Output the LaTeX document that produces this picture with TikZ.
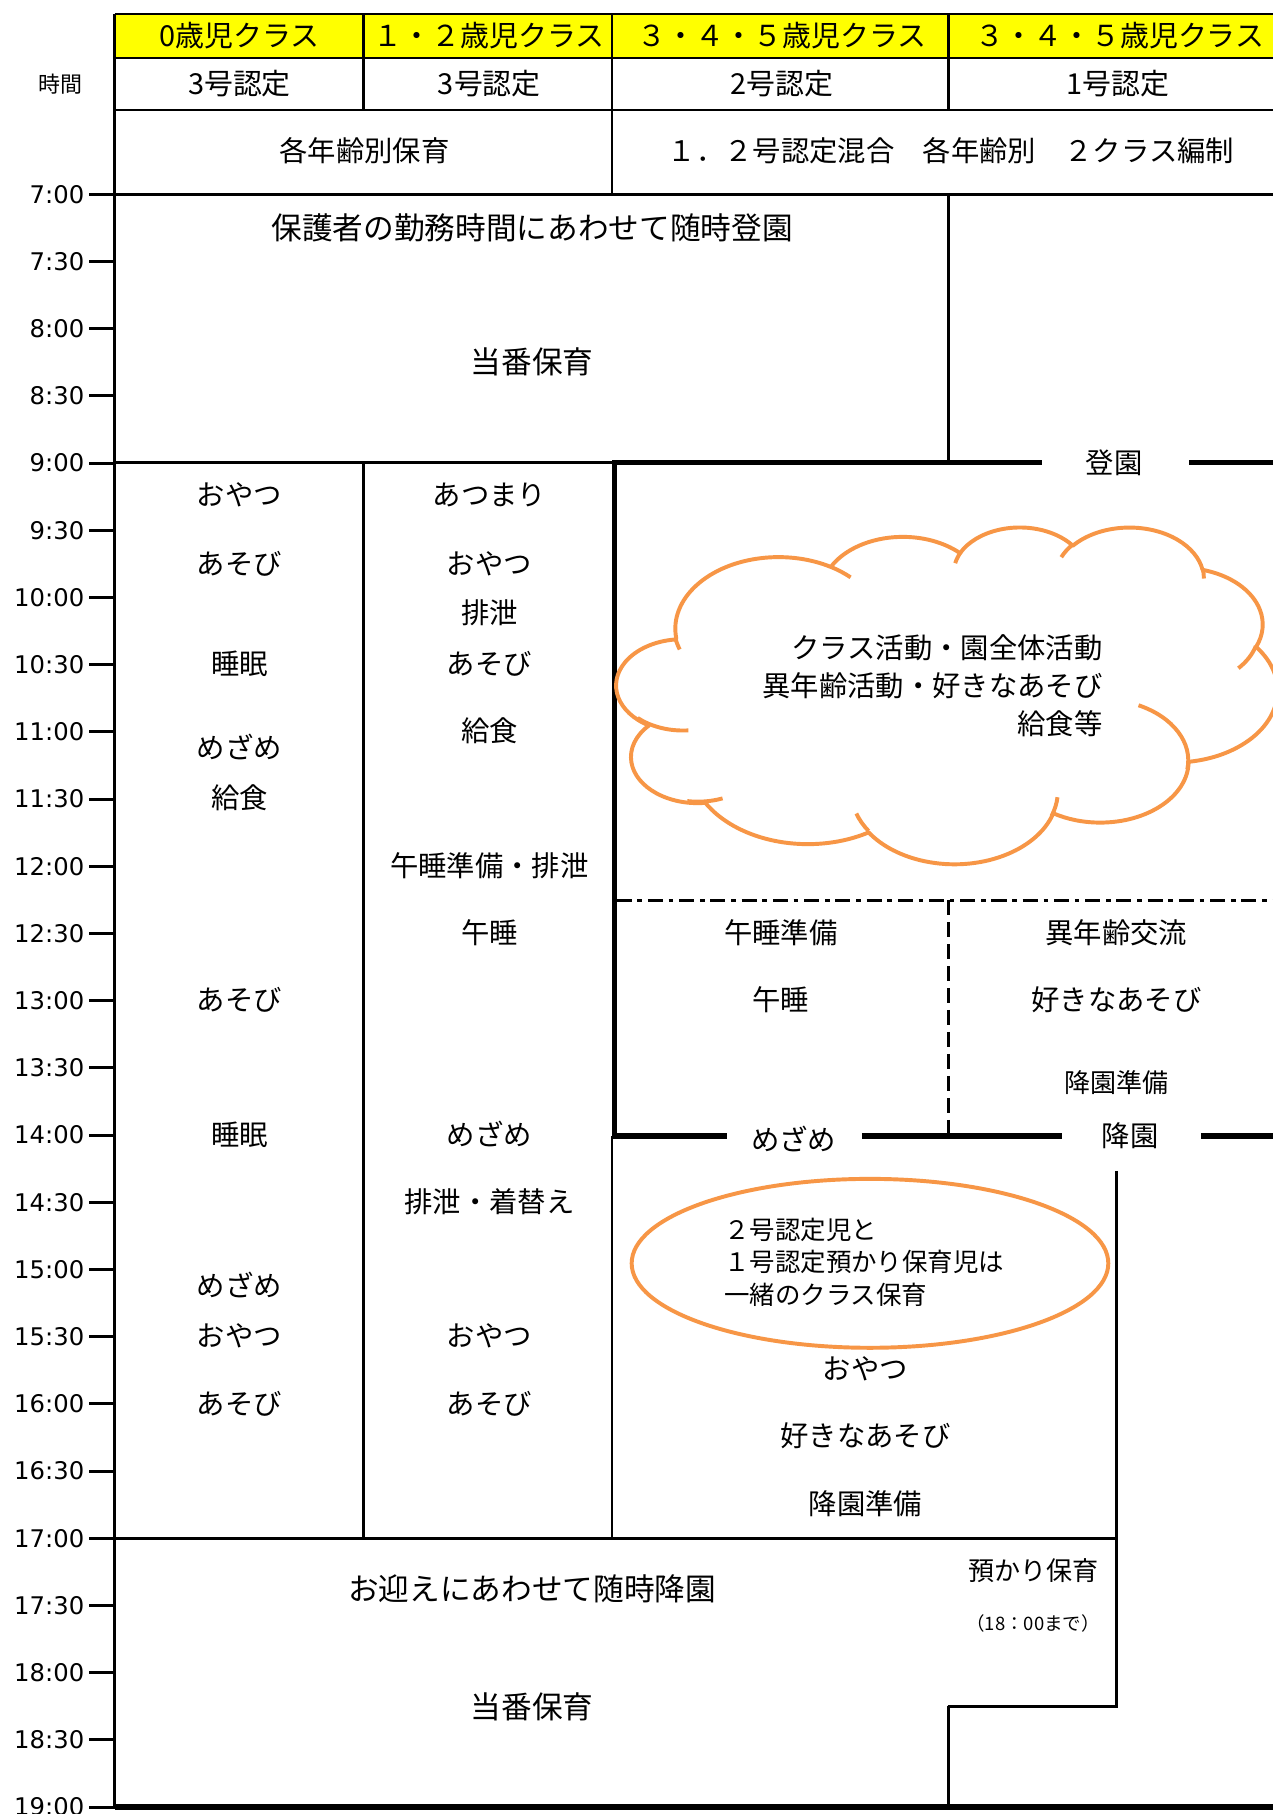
\documentclass[tikz,border=0pt]{standalone}
\usepackage{fontspec}
\setmainfont{Noto Sans CJK JP}
\newfontfamily\timefont{DejaVu Sans}
\usetikzlibrary{shapes.geometric}
\definecolor{cloudor}{HTML}{F79646}
\definecolor{hdryel}{HTML}{FFFF00}
% elliptical arc in DrawingML style: wR, hR, start (visual angle), sweep
\newcommand\carc[4]{arc[x radius=#1, y radius=#2,
  start angle={atan2(#1*sin(#3),#2*cos(#3))},
  delta angle={mod(atan2(#1*sin(#3+#4),#2*cos(#3+#4))-atan2(#1*sin(#3),#2*cos(#3))+720,360)}]}
\begin{document}
\begin{tikzpicture}[x=1pt,y=-1pt,
  lbl/.style={inner sep=0pt, outer sep=0pt, text height=21.5pt, text depth=3pt, font=\fontsize{24.5}{26}\selectfont},
  hdr/.style={lbl, text height=22pt, text depth=3pt, font=\fontsize{25}{26}\selectfont},
  big/.style={lbl, text height=23.3pt, text depth=3.2pt, font=\fontsize{26.5}{28}\selectfont},
  mid/.style={lbl, text height=19.8pt, text depth=2.7pt, font=\fontsize{22.5}{24}\selectfont},
  sml/.style={lbl, text height=19.4pt, text depth=2.6pt, font=\fontsize{22}{24}\selectfont},
  tiny/.style={lbl, text height=14pt, text depth=2pt, font=\fontsize{16}{17}\selectfont},
  tim/.style={inner sep=0pt, anchor=east, font=\timefont\fontsize{21}{21}\selectfont},
  lnA/.style={line width=2.2pt},
  lnB/.style={line width=3pt},
  lnC/.style={line width=4.6pt},
  tickln/.style={line width=2.6pt},
  dashdot/.style={line width=2.6pt, dash pattern=on 13pt off 5pt on 4pt off 5pt},
  dashv/.style={line width=2.6pt, dash pattern=on 13pt off 6pt},
  orln/.style={draw=cloudor, line width=3.4pt, line join=round}]
\useasboundingbox (0,0) rectangle (1100,1568);
\fill[white] (0,0) rectangle (1100,1568);

% ---------- header ----------
\fill[hdryel] (99,12) rectangle (1110,50);
\draw[lnA] (99,12) -- (1110,12);
\draw[lnA] (99,50) -- (1110,50);
\draw[lnA] (99,95) -- (1110,95);
\draw[lnA] (314,12) -- (314,95);
\draw[lnA] (529,12) -- (529,168);
\draw[lnA] (820,12) -- (820,95);
\draw[lnA] (99,12) -- (99,1562);

\node[hdr] (h1) at (207,31) {0歳児クラス};
\node[hdr] (h2) at (423,31) {１・２歳児クラス};
\node[hdr] (h3) at (676,31) {３・４・５歳児クラス};
\node[hdr] (h4) at (968,31) {３・４・５歳児クラス};
\node[hdr] (n1) at (207,72) {3号認定};
\node[hdr] (n2) at (423,72) {3号認定};
\node[hdr] (n3) at (676,72) {2号認定};
\node[hdr] (n4) at (966,72) {1号認定};
\node[lbl] (g1) at (315,130) {各年齢別保育};
\node[lbl] (g2) at (822,130) {１．２号認定混合　各年齢別　２クラス編制};
\node[inner sep=0pt, text height=16.7pt, text depth=2.3pt, font=\fontsize{19}{20}\selectfont] (jikan) at (52,73) {時間};

% ---------- time axis ----------
\foreach \t [count=\i from 0, evaluate=\i as \yy using 168+\i*58.0833] in
  {7:00,7:30,8:00,8:30,9:00,9:30,10:00,10:30,11:00,11:30,12:00,12:30,13:00,13:30,14:00,14:30,15:00,15:30,16:00,16:30,17:00,17:30,18:00,18:30,19:00} {
  \draw[tickln] (77,\yy) -- (99,\yy);
  \node[tim] (t\i) at (73,\yy) {\t};
}

% ---------- grid ----------
\draw[lnB] (99,168) -- (1110,168);
\draw[lnA] (820,168) -- (820,400);
\draw[lnA] (99,400) -- (529,400);
\draw[lnC] (529,400) -- (901,400);
\draw[lnC] (1028,400) -- (1110,400);
\draw[lnC] (531,398) -- (531,984);
\draw[lnC] (529,982) -- (628,982);
\draw[lnC] (745,982) -- (918,982);
\draw[lnC] (1038,982) -- (1110,982);
\draw[dashdot] (533,778) -- (1110,778);
\draw[dashv] (820,778) -- (820,982);
\draw[lnA] (314,400) -- (314,1330);
\draw[lnA] (529,982) -- (529,1330);
\draw[lnA] (965,1012) -- (965,1476);
\draw[lnB] (99,1330) -- (965,1330);
\draw[lnA] (819,1475) -- (966,1475);
\draw[lnA] (820,1475) -- (820,1562);
\draw[lnC] (99,1562) -- (1110,1562);

% ---------- 7:00 - 9:00 ----------
\node[big] (m1) at (460,197) {保護者の勤務時間にあわせて随時登園};
\node[big] (m2) at (460,313) {当番保育};
\node[lbl] (toen) at (963,400) {登園};

% ---------- column 1 ----------
\node[lbl] (a1) at (207,428) {おやつ};
\node[lbl] (a2) at (207,487) {あそび};
\node[lbl] (a3) at (207,574) {睡眠};
\node[lbl] (a4) at (207,646) {めざめ};
\node[lbl] (a5) at (207,690) {給食};
\node[lbl] (a6) at (207,864) {あそび};
\node[lbl] (a7) at (207,981) {睡眠};
\node[lbl] (a8) at (207,1111) {めざめ};
\node[lbl] (a9) at (207,1155) {おやつ};
\node[lbl] (a10) at (207,1213) {あそび};

% ---------- column 2 ----------
\node[lbl] (b1) at (423,428) {あつまり};
\node[lbl] (b2) at (423,487) {おやつ};
\node[lbl] (b3) at (423,530) {排泄};
\node[lbl] (b4) at (423,574) {あそび};
\node[lbl] (b5) at (423,632) {給食};
\node[lbl] (b6) at (423,748) {午睡準備・排泄};
\node[lbl] (b7) at (423,806) {午睡};
\node[lbl] (b8) at (423,981) {めざめ};
\node[lbl] (b9) at (423,1039) {排泄・着替え};
\node[lbl] (b10) at (423,1155) {おやつ};
\node[lbl] (b11) at (423,1213) {あそび};

% ---------- cloud ----------
\begin{scope}[shift={(533pt,-455pt)}, x=0.13218pt, y=-0.06736pt]
\draw[orln, fill=white] (390,1437)
  \carc{675.3}{919}{-190.48748}{123.78053}
  \carc{533.3}{726.7}{-144.10238}{89.94523}
  \carc{436.5}{594.5}{-145.80792}{99.72302}
  \carc{485.7}{659.5}{-130.98607}{117.24173}
  \carc{533.3}{727.3}{-78.70888}{109.02692}
  \carc{677.5}{922}{-46.26725}{130.269}
  \carc{578.5}{786.7}{0.62502}{114.03333}
  \carc{675.2}{921.5}{22.4516}{115.17255}
  \carc{772}{1054.3}{66.24263}{75.71102}
  \carc{436}{591.8}{-274.94208}{146.73557}
  \carc{434.5}{594.5}{-246.8285}{152.51885}
  -- cycle;
\draw[orln] (469.3,2617.7) \carc{434.5}{594.5}{86.73515}{37.74452};
\draw[orln] (692.8,3489.9) \carc{436}{591.8}{73.60235}{23.11673};
\draw[orln] (1647.8,3909) \carc{675.2}{921.5}{137.62415}{18.29297};
\draw[orln] (2882.7,3475.1) \carc{675.2}{921.5}{6.45327}{20.1235};
\draw[orln] (3412.9,2295.4) \carc{578.5}{786.7}{-70.29235}{81.4531};
\draw[orln] (4179.8,1535.4) \carc{533.3}{727.3}{21.03368}{29.35113};
\draw[orln] (3832.4,542.6) \carc{485.7}{659.5}{-13.74433}{14.86223};
\draw[orln] (2907.8,395.2) \carc{485.7}{659.5}{-149.18145}{18.19537};
\draw[orln] (2214.1,472) \carc{436.5}{594.5}{-163.49427}{17.68635};
\draw[orln] (1400,519.2) \carc{675.3}{919}{-66.70695}{12.31935};
\draw[orln] (412.7,1578.9) \carc{675.3}{919}{153.94455}{11.86067};
\end{scope}
\node[lbl, anchor=east] (c1) at (953,560) {クラス活動・園全体活動};
\node[lbl, anchor=east] (c2) at (953,593) {異年齢活動・好きなあそび};
\node[lbl, anchor=east] (c3) at (953,626) {給食等};

% ---------- columns 3/4 afternoon ----------
\node[lbl] (d1) at (675,806) {午睡準備};
\node[lbl] (d2) at (675,864) {午睡};
\node[lbl] (e1) at (965,806) {異年齢交流};
\node[lbl] (e2) at (965,864) {好きなあそび};
\node[mid] (e3) at (965,936) {降園準備};
\node[lbl] (mz) at (686,985) {めざめ};
\node[lbl] (koen) at (977,982) {降園};

% ---------- ellipse ----------
\node[ellipse, orln, inner sep=0pt, outer sep=0pt, minimum width=412pt, minimum height=146pt] (ell) at (752,1092) {};
\node[sml, anchor=west] (f1) at (626,1063) {２号認定児と};
\node[sml, anchor=west] (f2) at (626,1091) {１号認定預かり保育児は};
\node[sml, anchor=west] (f3) at (626,1119) {一緒のクラス保育};
\node[lbl] (k1) at (748,1183) {おやつ};
\node[lbl] (k2) at (748,1241) {好きなあそび};
\node[lbl] (k3) at (748,1300) {降園準備};

% ---------- 17:00 - 19:00 ----------
\node[big] (p1) at (460,1373) {お迎えにあわせて随時降園};
\node[big] (p2) at (460,1475) {当番保育};
\node[mid] (q1) at (893,1358) {預かり保育};
\node[tiny] (q2) at (893,1403) {（18：00まで）};
\end{tikzpicture}
\end{document}
